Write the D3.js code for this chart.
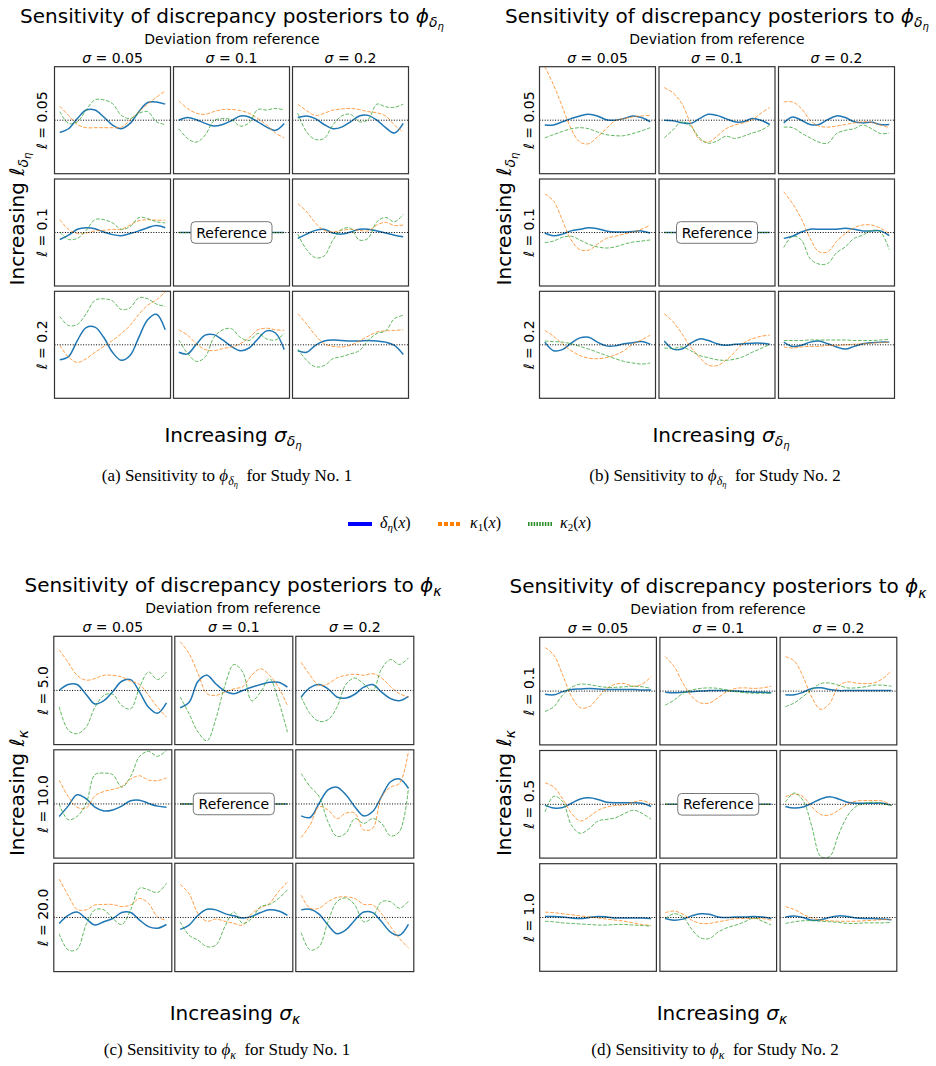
<!DOCTYPE html>
<html>
<head>
<meta charset="utf-8">
<script src="https://cdn.jsdelivr.net/npm/d3@7"></script>
<style>
  body { margin: 0; background: #fff; }
  svg { display: block; }
</style>
</head>
<body>
<svg id="chart" width="936" height="1066"></svg>
<script>
const xSamples = d3.range(13).map(i => i / 12);
const REF = [0, 0, 0, 0, 0, 0, 0, 0, 0, 0, 0, 0, 0];

const sigmaLabels = ["0.05", "0.1", "0.2"];
const rowLabelsA = ["0.05", "0.1", "0.2"];
const rowLabelsB = ["0.05", "0.1", "0.2"];
const rowLabelsC = ["5.0", "10.0", "20.0"];
const rowLabelsD = ["0.1", "0.5", "1.0"];

// cells row-major: (l, sigma) rows x cols, centre cell is the reference
const aDelta = [
  [-0.23,-0.16,0.03,0.19,0.19,0.06,-0.09,-0.16,-0.06,0.16,0.33,0.34,0.30],
  [0,0.05,0.01,-0.06,-0.11,-0.08,-0.01,0.08,0.06,-0.03,-0.13,-0.19,-0.06],
  [0.05,0.08,0.03,-0.08,-0.16,-0.13,-0.03,0.08,0.09,0,-0.14,-0.24,-0.06],
  [-0.13,-0.05,0.06,0.09,0.07,0.01,-0.04,-0.06,-0.02,0.03,0.09,0.13,0.09],
  REF,
  [-0.11,-0.03,0.04,0.06,-0.01,-0.03,0.01,0.06,0.06,0.03,-0.01,-0.05,-0.08],
  [-0.28,-0.22,0.08,0.32,0.33,0.14,-0.14,-0.29,-0.2,0.14,0.47,0.57,0.28],
  [-0.14,-0.17,0.01,0.18,0.19,0.09,-0.03,-0.11,-0.06,0.11,0.26,0.22,-0.09],
  [-0.11,-0.14,-0.01,0.07,0.09,0.08,0.07,0.07,0.08,0.07,0.05,-0.01,-0.18]
];
const aKappa1 = [
  [0.26,0.09,-0.08,-0.14,-0.14,-0.14,-0.14,-0.13,0.0,0.16,0.30,0.43,0.55],
  [0.36,0.22,0.13,0.11,0.16,0.2,0.2,0.18,0.13,0.03,-0.09,-0.24,-0.33],
  [0.3,0.18,0.09,0.13,0.19,0.21,0.22,0.2,0.16,0.14,0.08,-0.09,-0.22],
  [0.24,0.06,-0.02,-0.01,0.03,0.04,0.06,0.06,0.14,0.22,0.24,0.23,0.23],
  REF,
  [0.54,0.39,0.18,0.04,0.01,0.04,0.06,0.04,0.03,0.14,0.19,0.13,0.14],
  [-0.01,-0.23,-0.33,-0.26,-0.14,-0.03,0.08,0.21,0.36,0.57,0.74,0.84,0.99],
  [0.28,0.18,0.02,-0.09,-0.11,-0.07,-0.04,0.02,0.13,0.28,0.31,0.28,0.27],
  [0.58,0.39,0.18,0.02,-0.03,-0.04,-0.01,0.07,0.16,0.24,0.26,0.27,0.28]
];
const aKappa2 = [
  [0.16,-0.06,-0.03,0.19,0.38,0.38,0.31,0.09,0.03,0.13,0.16,-0.03,-0.08],
  [-0.16,-0.34,-0.41,-0.28,-0.01,0.03,0.01,-0.11,-0.05,0.2,0.19,0.22,0.19],
  [0.13,-0.22,-0.36,-0.34,-0.09,0.08,0.11,-0.03,0.01,0.3,0.25,0.24,0.3],
  [0.01,-0.13,-0.11,0.04,0.24,0.24,0.18,0.06,0.11,0.28,0.26,0.2,0.18],
  REF,
  [-0.03,-0.32,-0.47,-0.44,-0.14,0.06,0.08,-0.14,-0.11,0.2,0.28,0.2,0.34],
  [0.53,0.36,0.38,0.58,0.83,0.86,0.82,0.66,0.69,0.88,0.86,0.76,0.72],
  [0.09,-0.16,-0.31,-0.23,0.14,0.28,0.3,0.14,0.08,0.21,0.11,0.09,0.21],
  [-0.08,-0.29,-0.41,-0.39,-0.26,-0.22,-0.17,-0.11,0.08,0.21,0.26,0.49,0.55]
];

const bDelta = [
  [-0.09,-0.09,-0.03,0.03,0.08,0.11,0.08,0.01,0,0.03,0.08,0.05,-0.03],
  [0,-0.01,-0.05,-0.06,0.03,0.11,0.09,0.03,-0.03,-0.03,0.03,0,-0.08],
  [-0.05,0.06,0,-0.08,-0.08,0.01,0.08,0.05,-0.03,-0.05,-0.04,-0.08,-0.08],
  [-0.01,-0.06,-0.03,0.03,0.06,0.09,0.07,0.03,0.01,0.01,0.02,0.03,-0.01],
  REF,
  [-0.11,-0.07,0.01,0.06,0.06,0.06,0.06,0.08,0.06,0.03,0.03,0.03,-0.06],
  [0.05,-0.11,-0.09,0.03,0.13,0.14,0.05,-0.02,-0.02,0.02,0.04,0.06,0.01],
  [0.07,-0.08,-0.08,0.03,0.11,0.08,0.02,-0.01,0.01,0.02,0.03,0.03,0.01],
  [0.05,-0.03,-0.01,0.05,0.07,0.02,-0.04,-0.08,-0.03,0.02,0.04,0.05,0.05]
];
const bKappa1 = [
  [1.0,0.66,0.25,-0.16,-0.41,-0.44,-0.31,-0.16,-0.01,0.03,0.06,0.08,0.09],
  [0.61,0.51,0.31,-0.06,-0.36,-0.41,-0.3,-0.16,-0.09,-0.05,0.01,0.13,0.24],
  [0.34,0.34,0.22,0,-0.11,-0.13,-0.11,-0.08,-0.05,-0.03,-0.04,-0.09,-0.14],
  [0.72,0.59,0.23,-0.14,-0.32,-0.33,-0.22,-0.11,-0.07,-0.03,0.01,0.06,0.14],
  REF,
  [0.76,0.54,0.26,-0.11,-0.36,-0.36,-0.17,-0.02,0.09,0.14,0.14,0.08,-0.02],
  [0.27,0.16,0.02,-0.11,-0.2,-0.25,-0.26,-0.24,-0.19,-0.11,0.01,0.09,0.18],
  [0.58,0.43,0.21,-0.04,-0.23,-0.38,-0.39,-0.29,-0.14,0.03,0.11,0.16,0.18],
  [-0.04,-0.06,-0.04,-0.03,-0.03,-0.01,-0.01,0,0.01,0.02,0.03,0.04,0.05]
];
const bKappa2 = [
  [-0.33,-0.27,-0.21,-0.16,-0.14,-0.16,-0.22,-0.27,-0.29,-0.29,-0.25,-0.2,-0.14],
  [-0.33,-0.18,-0.03,-0.11,-0.33,-0.43,-0.39,-0.3,-0.34,-0.3,-0.24,-0.19,-0.09],
  [-0.13,-0.14,-0.24,-0.33,-0.41,-0.43,-0.25,-0.19,-0.16,-0.09,-0.16,-0.25,-0.24],
  [-0.19,-0.16,-0.09,-0.07,-0.14,-0.22,-0.27,-0.29,-0.27,-0.22,-0.18,-0.16,-0.14],
  REF,
  [-0.28,-0.07,-0.14,-0.49,-0.59,-0.58,-0.38,-0.27,-0.11,-0.05,0.04,0.01,-0.32],
  [0.07,0.06,0.05,0.02,-0.03,-0.08,-0.14,-0.2,-0.26,-0.31,-0.34,-0.36,-0.34],
  [-0.06,-0.07,-0.04,-0.11,-0.2,-0.24,-0.28,-0.29,-0.27,-0.22,-0.14,-0.07,0.01],
  [0.08,0.08,0.08,0.09,0.09,0.09,0.09,0.09,0.08,0.08,0.08,0.09,0.1]
];

const cDelta = [
  [0,0.11,0.11,-0.07,-0.25,-0.19,-0.02,0.17,0.2,-0.03,-0.31,-0.42,-0.23],
  [-0.32,-0.22,0.17,0.28,0.12,-0.01,-0.06,0,0.06,0.11,0.15,0.15,0.06],
  [-0.12,0.05,0.11,0.03,-0.12,-0.14,-0.07,0.06,0.11,-0.03,-0.15,-0.19,-0.11],
  [-0.23,-0.04,0.17,0.1,-0.06,-0.13,-0.11,-0.04,0.06,0.07,0.01,-0.04,-0.06],
  REF,
  [-0.22,-0.25,0.01,0.26,0.31,0.17,-0.05,-0.22,-0.14,0.14,0.41,0.46,0.29],
  [-0.11,0.04,0.1,-0.02,-0.14,-0.08,-0.02,0.09,0.09,-0.05,-0.17,-0.2,-0.13],
  [-0.22,-0.14,0.04,0.15,0.14,0.07,0.03,-0.01,0.02,0.09,0.14,0.12,0.04],
  [0.14,0.15,0.06,-0.14,-0.3,-0.23,-0.05,0.1,0.09,-0.08,-0.27,-0.33,-0.13]
];
const cKappa1 = [
  [0.75,0.52,0.28,0.19,0.22,0.28,0.28,0.25,0.17,0.11,-0.09,-0.31,-0.49],
  [0.9,0.68,0.31,-0.06,-0.09,-0.03,0.03,0.07,0.28,0.4,0.28,0.06,-0.28],
  [0.52,0.28,0.09,0.12,0.23,0.28,0.3,0.28,0.31,0.23,0.07,-0.06,-0.12],
  [0.44,0.14,-0.06,-0.08,0.15,0.23,0.27,0.32,0.46,0.52,0.44,0.43,0.48],
  REF,
  [-0.62,-0.39,-0.05,-0.11,-0.27,-0.17,-0.17,-0.48,-0.45,0.14,0.31,0.38,0.97],
  [0.71,0.41,0.15,0.14,0.23,0.24,0.24,0.2,0.23,0.35,0.26,0.01,-0.05],
  [0.61,0.44,0.07,-0.07,-0.03,-0.07,-0.11,-0.14,0.07,0.18,0.26,0.48,0.65],
  [0.41,0.17,0.17,0.29,0.37,0.38,0.35,0.24,0.23,0.07,-0.17,-0.39,-0.56]
];
const cKappa2 = [
  [-0.3,-0.73,-0.8,-0.68,-0.31,-0.09,-0.07,-0.28,-0.34,0.06,0.34,0.2,0.34],
  [-0.12,-0.43,-0.77,-0.93,-0.52,0.09,0.48,0.34,-0.19,-0.03,0.22,-0.19,-0.77],
  [-0.12,-0.43,-0.57,-0.54,-0.31,0.11,0.23,0.12,0,0.4,0.57,0.48,0.6],
  [0,-0.29,-0.23,0.0,0.54,0.57,0.54,0.31,0.51,0.88,0.97,0.88,0.99],
  REF,
  [0.56,0.32,0.14,-0.33,-0.6,-0.54,-0.27,-0.36,-0.27,-0.36,-0.59,-0.51,0.29],
  [-0.3,-0.6,-0.59,-0.14,0.14,0.14,-0.02,-0.13,0.14,0.54,0.51,0.46,0.63],
  [-0.08,-0.33,-0.42,-0.54,-0.51,-0.17,0.1,-0.11,-0.02,0.2,0.24,0.35,0.51],
  [-0.28,-0.6,-0.54,-0.08,0.29,0.36,0.23,-0.08,0.01,0.29,0.29,0.17,0.3]
];

const dDelta = [
  [-0.06,-0.07,-0.01,0.03,0.04,0.05,0.04,0.03,0.03,0.03,0.03,0.02,0.02],
  [-0.02,-0.03,-0.02,-0.01,0,0.01,0.01,0.01,0,-0.01,-0.02,-0.02,-0.03],
  [-0.07,-0.07,-0.02,0.05,0.06,0.03,0.01,0.01,0.01,0.01,0.01,0.01,0.01],
  [-0.02,-0.07,-0.06,0.02,0.1,0.12,0.09,0.04,0.03,0.03,0.03,0.02,-0.04],
  REF,
  [-0.04,-0.07,-0.05,0.02,0.1,0.14,0.1,0.04,0.02,0.02,0.02,0.02,-0.02],
  [0.02,0.02,0.01,-0.01,-0.02,0,0.02,0.01,-0.01,-0.01,-0.01,-0.01,-0.02],
  [-0.02,-0.05,-0.03,0.03,0.07,0.06,0.01,0,0.01,0.01,0.02,0.01,-0.02],
  [0.01,0.03,0,-0.05,-0.04,0,0.03,0.02,-0.01,-0.02,-0.02,-0.03,-0.04]
];
const dKappa1 = [
  [0.81,0.67,0.3,-0.1,-0.31,-0.29,-0.12,0.05,0.13,0.14,0.09,0.13,0.27],
  [0.64,0.46,0.15,-0.1,-0.22,-0.22,-0.12,-0.01,0.05,0.06,0.05,0.06,0.09],
  [0.64,0.56,0.27,-0.12,-0.34,-0.23,0.09,0.17,0.15,0.14,0.15,0.23,0.38],
  [0.4,0.32,0.1,-0.17,-0.31,-0.23,-0.11,-0.05,-0.02,-0.01,0.04,0.07,0.01],
  REF,
  [0.14,0.19,0.14,-0.05,-0.19,-0.2,-0.11,0,0.06,0.07,0.07,0.06,-0.02],
  [0.1,0.09,0.07,0.05,0.03,0.01,-0.01,-0.03,-0.05,-0.07,-0.1,-0.13,-0.15],
  [0.09,0.12,0.06,-0.05,-0.11,-0.11,-0.08,-0.05,-0.02,-0.02,-0.02,-0.02,-0.05],
  [0.2,0.15,0.06,-0.01,-0.05,-0.06,-0.07,-0.07,-0.07,-0.06,-0.05,-0.04,-0.04]
];
const dKappa2 = [
  [-0.38,-0.29,-0.07,0.07,0.13,0.12,0.09,0.07,0.07,0.08,0.09,0.08,0.05],
  [-0.26,-0.17,-0.04,0.02,0.05,0.06,0.05,0.02,-0.01,-0.03,-0.04,-0.04,-0.04],
  [-0.29,-0.22,-0.1,0.03,0.14,0.15,0.11,0.06,0.06,0.08,0.11,0.11,0.09],
  [-0.14,0.15,0.05,-0.39,-0.54,-0.45,-0.31,-0.28,-0.25,-0.17,-0.11,-0.17,-0.28],
  REF,
  [0.04,0.21,0.07,-0.42,-0.97,-0.97,-0.57,-0.22,-0.04,0.02,0.04,0.01,-0.02],
  [-0.07,-0.08,-0.1,-0.11,-0.12,-0.13,-0.14,-0.14,-0.13,-0.13,-0.14,-0.15,-0.16],
  [-0.02,0.07,0.01,-0.22,-0.38,-0.39,-0.27,-0.19,-0.14,-0.08,-0.01,-0.07,-0.14],
  [-0.11,-0.08,-0.06,-0.06,-0.07,-0.08,-0.09,-0.11,-0.11,-0.1,-0.1,-0.1,-0.09]
];

const legendItems = [
  { key: "delta", label: ["δ", "η", "(x)"], color: "#0000ff", dash: null },
  { key: "k1", label: ["κ", "1", "(x)"], color: "#ff8000", dash: "4,2" },
  { key: "k2", label: ["κ", "2", "(x)"], color: "#2f8f2f", dash: "1.6,1.2" }
];

const panels = [
  { id: "a", x0: 54.5, y0: 66.7, cw: 116, ch: 107, gx: 3, gy: 5.3, cx: 232,
    titleY: 22.7, devY: 44.3, sigY: 62.7, rowX: 47, ylabX: 24, ylabY: 219,
    xlabX: 233, xlabY: 442, capX: 227, capY: 481, sym: "delta",
    rows: rowLabelsA, series: [aDelta, aKappa1, aKappa2], study: 1 },
  { id: "b", x0: 539.5, y0: 66.7, cw: 116, ch: 107, gx: 3.5, gy: 5.3, cx: 717,
    titleY: 22.7, devY: 44.3, sigY: 62.7, rowX: 534, ylabX: 511, ylabY: 219,
    xlabX: 721, xlabY: 442, capX: 715, capY: 481, sym: "delta",
    rows: rowLabelsB, series: [bDelta, bKappa1, bKappa2], study: 2 },
  { id: "c", x0: 53.8, y0: 636.3, cw: 118, ch: 108.3, gx: 3, gy: 5.2, cx: 233,
    titleY: 591.7, devY: 613.3, sigY: 631.7, rowX: 48, ylabX: 24, ylabY: 793,
    xlabX: 235, xlabY: 1020, capX: 227, capY: 1055, sym: "kappa",
    rows: rowLabelsC, series: [cDelta, cKappa1, cKappa2], study: 1 },
  { id: "d", x0: 539.7, y0: 637.3, cw: 116.7, ch: 107.6, gx: 3.5, gy: 5.6, cx: 718,
    titleY: 593.3, devY: 614.3, sigY: 633.3, rowX: 534, ylabX: 511, ylabY: 793,
    xlabX: 722, xlabY: 1020, capX: 715, capY: 1055, sym: "kappa",
    rows: rowLabelsD, series: [dDelta, dKappa1, dKappa2], study: 2 }
];

const seriesStyle = [
  { color: "#1f77b4", width: 1.5, dash: null, opacity: 1 },
  { color: "#ff7f0e", width: 1, dash: "3.7,1.6", opacity: 0.75 },
  { color: "#2ca02c", width: 1, dash: "3.7,1.6", opacity: 0.75 }
];

const SANS = "DejaVu Sans, sans-serif";
const SERIF = "Liberation Serif, Times New Roman, serif";

const svg = d3.select("#chart");
const defs = svg.append("defs");

// symbol with subscript: phi_{delta_eta} or phi_{kappa}
function addSymbol(text, base, sym, size, serif) {
  const sub = size * 0.7, subsub = size * 0.5;
  text.append("tspan").attr("font-style", "italic").text(base);
  if (sym === "delta") {
    text.append("tspan").attr("font-style", "italic").attr("font-size", sub)
      .attr("dy", size * 0.22).text("δ");
    text.append("tspan").attr("font-style", "italic").attr("font-size", subsub)
      .attr("dy", size * 0.15).text("η");
    return size * 0.37;
  }
  text.append("tspan").attr("font-style", "italic").attr("font-size", sub)
    .attr("dy", size * 0.22).text("κ");
  return size * 0.22;
}

panels.forEach(p => {
  const g = svg.append("g").attr("class", "panel-" + p.id);

  const colBand = d3.scaleBand().domain([0, 1, 2])
    .range([p.x0, p.x0 + 3 * p.cw + 2 * p.gx])
    .paddingInner(p.gx / (p.cw + p.gx));
  const rowBand = d3.scaleBand().domain([0, 1, 2])
    .range([p.y0, p.y0 + 3 * p.ch + 2 * p.gy])
    .paddingInner(p.gy / (p.ch + p.gy));

  const x = d3.scaleLinear().domain([-0.05, 1.05]).range([0, colBand.bandwidth()]);
  const y = d3.scaleLinear().domain([-1, 1]).range([rowBand.bandwidth(), 0]);
  const line = d3.line()
    .x((d, i) => x(xSamples[i]))
    .y(d => y(d))
    .curve(d3.curveCatmullRom.alpha(0.5));

  // title
  const title = g.append("text")
    .attr("x", p.cx).attr("y", p.titleY)
    .attr("text-anchor", "middle")
    .attr("font-family", SANS).attr("font-size", 20).attr("fill", "#000");
  title.append("tspan").text("Sensitivity of discrepancy posteriors to ");
  addSymbol(title, "ϕ", p.sym, 20);

  g.append("text")
    .attr("x", p.cx).attr("y", p.devY)
    .attr("text-anchor", "middle")
    .attr("font-family", SANS).attr("font-size", 14)
    .text("Deviation from reference");

  // column headers
  sigmaLabels.forEach((s, j) => {
    const t = g.append("text")
      .attr("x", colBand(j) + colBand.bandwidth() / 2).attr("y", p.sigY)
      .attr("text-anchor", "middle")
      .attr("font-family", SANS).attr("font-size", 14);
    t.append("tspan").attr("font-style", "italic").text("σ");
    t.append("tspan").text(" = " + s);
  });

  // row labels
  p.rows.forEach((r, i) => {
    const cy = rowBand(i) + rowBand.bandwidth() / 2;
    const t = g.append("text")
      .attr("transform", `translate(${p.rowX},${cy}) rotate(-90)`)
      .attr("text-anchor", "middle")
      .attr("font-family", SANS).attr("font-size", 14);
    t.append("tspan").attr("font-style", "italic").text("ℓ");
    t.append("tspan").text(" = " + r);
  });

  // cells
  for (let i = 0; i < 3; i++) {
    for (let j = 0; j < 3; j++) {
      const k = i * 3 + j;
      const cell = g.append("g")
        .attr("transform", `translate(${colBand(j)},${rowBand(i)})`);
      const clipId = `clip-${p.id}-${k}`;
      defs.append("clipPath").attr("id", clipId)
        .append("rect")
        .attr("width", colBand.bandwidth())
        .attr("height", rowBand.bandwidth());

      const plot = cell.append("g").attr("clip-path", `url(#${clipId})`);
      p.series.forEach((s, si) => {
        const st = seriesStyle[si];
        plot.append("path")
          .datum(s[k])
          .attr("d", line)
          .attr("fill", "none")
          .attr("stroke", st.color)
          .attr("stroke-width", st.width)
          .attr("stroke-opacity", st.opacity)
          .attr("stroke-dasharray", st.dash);
      });
      plot.append("line")
        .attr("x1", 0).attr("x2", colBand.bandwidth())
        .attr("y1", y(0)).attr("y2", y(0))
        .attr("stroke", "#000")
        .attr("stroke-width", 1)
        .attr("stroke-dasharray", "1,1.6");

      if (i === 1 && j === 1) {
        const bw = 81, bh = 21.6;
        cell.append("rect")
          .attr("x", colBand.bandwidth() / 2 - bw / 2)
          .attr("y", y(0) - bh / 2)
          .attr("width", bw).attr("height", bh)
          .attr("rx", 4)
          .attr("fill", "#fff")
          .attr("stroke", "#777")
          .attr("stroke-width", 1);
        cell.append("text")
          .attr("x", colBand.bandwidth() / 2)
          .attr("y", y(0) + 5)
          .attr("text-anchor", "middle")
          .attr("font-family", SANS).attr("font-size", 14)
          .text("Reference");
      }

      cell.append("rect")
        .attr("width", colBand.bandwidth())
        .attr("height", rowBand.bandwidth())
        .attr("fill", "none")
        .attr("stroke", "#333")
        .attr("stroke-width", 1.2);
    }
  }

  // big axis labels
  const yl = g.append("text")
    .attr("transform", `translate(${p.ylabX},${p.ylabY}) rotate(-90)`)
    .attr("text-anchor", "middle")
    .attr("font-family", SANS).attr("font-size", 20);
  yl.append("tspan").text("Increasing ");
  addSymbol(yl, "ℓ", p.sym, 20);

  const xl = g.append("text")
    .attr("x", p.xlabX).attr("y", p.xlabY)
    .attr("text-anchor", "middle")
    .attr("font-family", SANS).attr("font-size", 20);
  xl.append("tspan").text("Increasing ");
  addSymbol(xl, "σ", p.sym, 20);

  // caption
  const cap = g.append("text")
    .attr("x", p.capX).attr("y", p.capY)
    .attr("text-anchor", "middle")
    .attr("font-family", SERIF).attr("font-size", 17);
  cap.append("tspan").text(`(${p.id}) Sensitivity to `);
  const shift = addSymbol(cap, "ϕ", p.sym, 17);
  cap.append("tspan").attr("dy", -shift).text(`\u00a0 for Study No. ${p.study}`);
});

// shared legend
const legend = svg.append("g").attr("class", "legend");
const legendX = d3.scaleOrdinal().domain(legendItems.map(d => d.key)).range([348, 438, 528]);
legendItems.forEach(d => {
  const lx = legendX(d.key);
  legend.append("line")
    .attr("x1", lx).attr("x2", lx + 24)
    .attr("y1", 524).attr("y2", 524)
    .attr("stroke", d.color)
    .attr("stroke-width", 4)
    .attr("stroke-dasharray", d.dash);
  const t = legend.append("text")
    .attr("x", lx + 32).attr("y", 528)
    .attr("font-family", SERIF).attr("font-size", 16);
  t.append("tspan").attr("font-style", "italic").text(d.label[0]);
  t.append("tspan").attr("font-size", 11).attr("dy", 3)
    .attr("font-style", d.key === "delta" ? "italic" : "normal").text(d.label[1]);
  t.append("tspan").attr("dy", -3).text("(");
  t.append("tspan").attr("font-style", "italic").text("x");
  t.append("tspan").text(")");
});
</script>
</body>
</html>
